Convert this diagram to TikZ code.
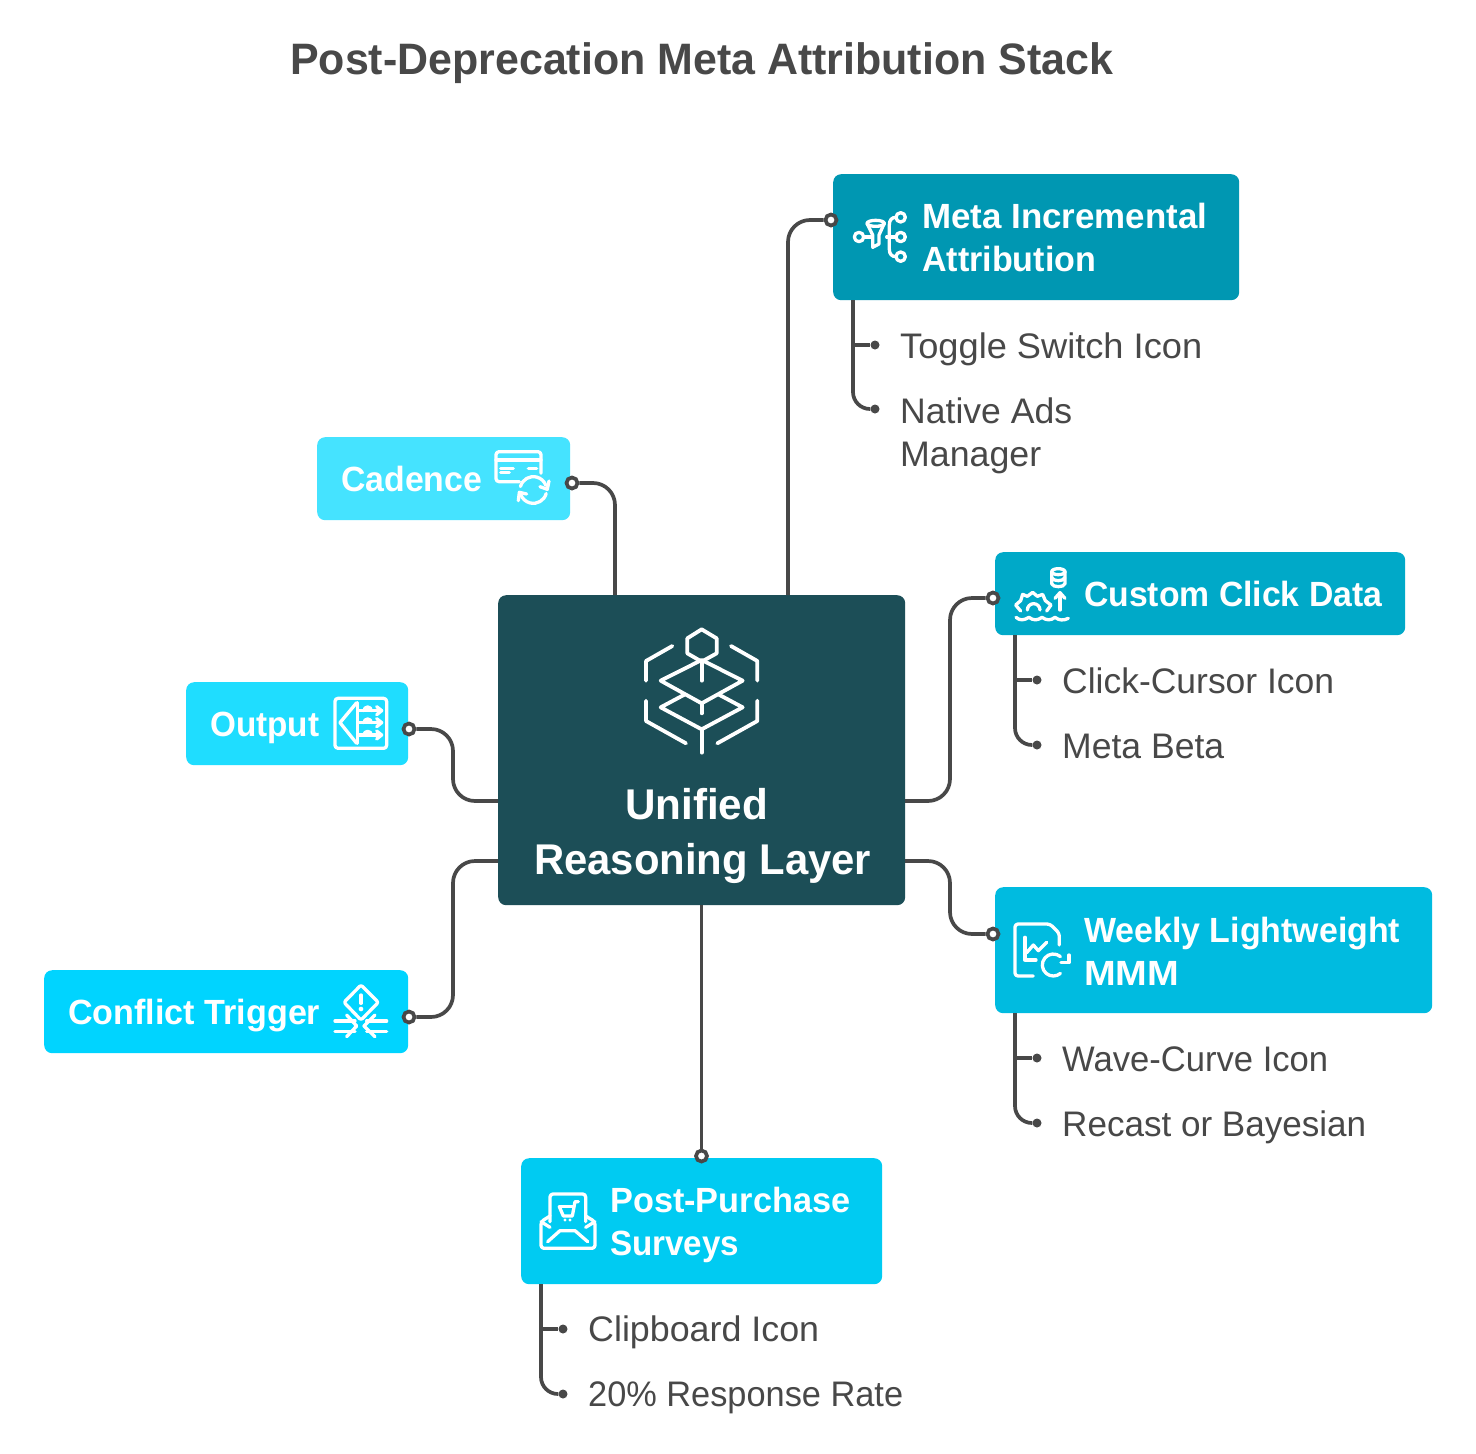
\documentclass[tikz,border=0pt]{standalone}
\usepackage{fontspec}
\usepackage{graphicx}
\setmainfont{Liberation Sans}
\definecolor{ink}{HTML}{484848}
\definecolor{coreC}{HTML}{1C4E57}
\definecolor{metaC}{HTML}{0097B2}
\definecolor{clickC}{HTML}{00A9C8}
\definecolor{mmmC}{HTML}{00BBE0}
\definecolor{postC}{HTML}{00CBF2}
\definecolor{confC}{HTML}{00D4FF}
\definecolor{outC}{HTML}{1FDDFF}
\definecolor{cadC}{HTML}{45E3FF}
\newsavebox\fitbox
\newcommand\fit[2]{\sbox\fitbox{#2}\pgfmathsetmacro\fitf{#1/\wd\fitbox}\scalebox{\fitf}[1]{\usebox\fitbox}}
\tikzset{
  box/.style={rounded corners=8pt,inner sep=0pt,anchor=north west},
  head/.style={anchor=base west,inner sep=0pt,text=white,font=\bfseries\fontsize{35}{43}\selectfont},
  big/.style={anchor=base west,inner sep=0pt,text=white,font=\bfseries\fontsize{43}{55}\selectfont},
  item/.style={anchor=base west,inner sep=0pt,text=ink,font=\fontsize{35.5}{43}\selectfont},
  wire/.style={draw=ink,line width=3.7pt,rounded corners=22pt},
  subwire/.style={draw=ink,line width=3.7pt,rounded corners=17pt},
  branch/.style={draw=ink,line width=3.7pt},
  port/.style={circle,draw=ink,fill=white,line width=3.7pt,inner sep=0pt,minimum size=11pt},
  dot/.style={circle,fill=ink,inner sep=0pt,minimum size=9pt},
  ico/.style={draw=white,line width=3.6pt,line cap=round,line join=round},
  thinico/.style={draw=white,line width=3.3pt,line cap=round,line join=round},
}
\begin{document}
\begin{tikzpicture}[x=1pt,y=-1pt]
\useasboundingbox (0,0) rectangle (1476,1454);
\fill[white] (0,0) rectangle (1476,1454);

% title
\node[anchor=base west,inner sep=0pt,text=ink,font=\bfseries\fontsize{44}{50}\selectfont] (title) at (290,74) {\fit{823}{Post-Deprecation Meta Attribution Stack}};

% boxes
\node[box,fill=coreC,minimum width=407pt,minimum height=310pt] (core) at (498,595) {};
\node[box,fill=metaC,minimum width=406pt,minimum height=126pt] (meta) at (833,174) {};
\node[box,fill=cadC,minimum width=253pt,minimum height=83pt] (cad) at (317,437) {};
\node[box,fill=clickC,minimum width=410pt,minimum height=83pt] (click) at (995,552) {};
\node[box,fill=outC,minimum width=222pt,minimum height=83pt] (out) at (186,682) {};
\node[box,fill=mmmC,minimum width=437pt,minimum height=126pt] (mmm) at (995,887) {};
\node[box,fill=confC,minimum width=364pt,minimum height=83pt] (conf) at (44,970) {};
\node[box,fill=postC,minimum width=361pt,minimum height=126pt] (post) at (521,1158) {};

% box labels
\node[big] (coreA) at (625,819.5) {\fit{143}{Unified}};
\node[big] (coreB) at (534,874.5) {\fit{337}{Reasoning Layer}};
\node[head] (metaA) at (922,228) {\fit{285}{Meta Incremental}};
\node[head] (metaB) at (922,271) {\fit{174}{Attribution}};
\node[head] (cadT) at (341,491) {\fit{141}{Cadence}};
\node[head] (clickT) at (1084,606) {\fit{298}{Custom Click Data}};
\node[head] (outT) at (210,736) {\fit{109}{Output}};
\node[head] (mmmA) at (1084,942) {\fit{316}{Weekly Lightweight}};
\node[head] (mmmB) at (1084,985) {\fit{95}{MMM}};
\node[head] (confT) at (68,1024) {\fit{252}{Conflict Trigger}};
\node[head] (postA) at (610,1212) {\fit{240}{Post-Purchase}};
\node[head] (postB) at (610,1255) {\fit{129}{Surveys}};

% items
\node[item] (i1) at (900,358) {\fit{302}{Toggle Switch Icon}};
\node[item] (i2a) at (900,423) {\fit{172}{Native Ads}};
\node[item] (i2b) at (900,466) {\fit{141}{Manager}};
\node[item] (i3) at (1062,693) {\fit{272}{Click-Cursor Icon}};
\node[item] (i4) at (1062,758) {\fit{162}{Meta Beta}};
\node[item] (i5) at (1062,1071) {\fit{266}{Wave-Curve Icon}};
\node[item] (i6) at (1062,1136) {\fit{304}{Recast or Bayesian}};
\node[item] (i7) at (588,1341) {\fit{231}{Clipboard Icon}};
\node[item] (i8) at (588,1406) {\fit{315}{20\% Response Rate}};

% ports and dots
\node[port] (pCad) at (572,483) {};
\node[port] (pMeta) at (831,220) {};
\node[port] (pOut) at (409,729) {};
\node[port] (pConf) at (409,1017) {};
\node[port] (pClick) at (993,598) {};
\node[port] (pMmm) at (993,934) {};
\node[port] (pPost) at (701.5,1156) {};
\node[dot] (d1) at (875,345) {};
\node[dot] (d2) at (875,409) {};
\node[dot] (d3) at (1037,680) {};
\node[dot] (d4) at (1037,745) {};
\node[dot] (d5) at (1037,1058) {};
\node[dot] (d6) at (1037,1123) {};
\node[dot] (d7) at (563,1329) {};
\node[dot] (d8) at (563,1394) {};

% attachment points on the core
\coordinate (cTopA) at (615,595);
\coordinate (cTopB) at (788,595);
\coordinate (cLeftA) at (498,801);
\coordinate (cLeftB) at (498,861);
\coordinate (cRightA) at (905,801);
\coordinate (cRightB) at (905,861);
\coordinate (cBot) at (701.5,905);

% connectors
\draw[wire] (pCad) -| (cTopA);
\draw[wire] (pMeta) -| (cTopB);
\draw[wire] (pOut) -- (453,729) -- (453,801) -- (cLeftA);
\draw[wire] (pConf) -- (453,1017) -- (453,861) -- (cLeftB);
\draw[wire] (pClick) -- (950,598) -- (950,801) -- (cRightA);
\draw[wire] (pMmm) -- (950,934) -- (950,861) -- (cRightB);
\draw[wire] (cBot) -- (pPost);

% sub-item trunks
\draw[subwire] (853,300) -- (853,409) -- (d2);
\draw[branch] (853,345) -- (d1);
\draw[subwire] (1015,635) -- (1015,745) -- (d4);
\draw[branch] (1015,680) -- (d3);
\draw[subwire] (1015,1013) -- (1015,1123) -- (d6);
\draw[branch] (1015,1058) -- (d5);
\draw[subwire] (541,1284) -- (541,1394) -- (d8);
\draw[branch] (541,1329) -- (d7);

% core icon
\begin{scope}[shift={(620,610)},x=0.3333pt,y=-0.3333pt,ico,line width=3.8pt]
\draw (245,58) -- (290,85) -- (290,130) -- (245,155) -- (202,130) -- (202,85) -- cycle;
\draw (157,108) -- (78,153) -- (78,212);
\draw (333,108) -- (412,153) -- (412,212);
\draw (78,272) -- (78,333) -- (198,400);
\draw (412,272) -- (412,333) -- (292,400);
\draw (245,150) -- (368,212) -- (245,280) -- (122,212) -- cycle;
\draw (245,155) -- (245,212);
\draw (195,253) -- (122,292) -- (245,358) -- (368,292) -- (295,253);
\draw (245,280) -- (245,310);
\draw (245,358) -- (245,428);
\end{scope}

% meta icon
\begin{scope}[shift={(830,170)},x=0.3333pt,y=-0.3333pt,thinico]
\draw (87,201) circle[radius=14];
\draw (137,160) ellipse[x radius=26,y radius=9];
\draw (111,160) -- (128,195) -- (128,232) -- (147,222) -- (147,195) -- (163,160);
\draw (101,201) -- (125,201);
\draw (170,201) -- (198,201);
\draw (198,142) .. controls (185,142) and (178,150) .. (178,165) -- (178,238) .. controls (178,252) and (185,260) .. (198,260);
\draw (212,142) circle[radius=14];
\draw (212,201) circle[radius=14];
\draw (212,260) circle[radius=14];
\end{scope}

% cadence icon
\begin{scope}[shift={(480,430)},x=0.3333pt,y=-0.3333pt,thinico]
\draw[rounded corners=3pt] (118,155) -- (48,155) -- (48,65) -- (183,65) -- (183,130);
\draw (48,90) -- (183,90);
\draw (62,115) -- (100,115);
\draw (62,128) -- (88,128);
\draw (145,115) -- (170,115);
\draw (121.4,169.6) arc[start angle=195,end angle=340,radius=40];
\draw (207,153) -- (202,178) -- (180,170);
\draw (198.6,190.4) arc[start angle=15,end angle=160,radius=40];
\draw (115,212) -- (118,187) -- (140,192);
\end{scope}

% output icon
\begin{scope}[shift={(320,680)},x=0.3333pt,y=-0.3333pt,thinico]
\draw[rounded corners=3pt] (45,55) rectangle (200,205);
\draw (110,68) -- (60,128) -- (110,190);
\draw (113,68) -- (113,190);
\draw (113,92) -- (183,92);
\draw (113,128) -- (183,128);
\draw (113,165) -- (183,165);
\draw (170,80) -- (185,92) -- (170,104);
\draw (170,116) -- (185,128) -- (170,140);
\draw (170,153) -- (185,165) -- (170,177);
\draw (132,92) arc[start angle=180,end angle=360,radius=11];
\draw (132,128) arc[start angle=180,end angle=360,radius=11];
\draw (132,165) arc[start angle=180,end angle=360,radius=11];
\end{scope}

% conflict icon
\begin{scope}[shift={(320,970)},x=0.3333pt,y=-0.3333pt,thinico]
\draw[rounded corners=2pt] (123,45) -- (175,97) -- (123,150) -- (72,97) -- cycle;
\draw (123,75) -- (123,100);
\fill[white] (123,117) circle[radius=7];
\draw (45,153) -- (105,153);
\draw (45,185) -- (105,185);
\draw (80,135) -- (110,168) -- (80,200);
\draw (200,153) -- (140,153);
\draw (200,185) -- (140,185);
\draw (165,135) -- (132,168) -- (165,200);
\end{scope}

% custom click icon
\begin{scope}[shift={(1000,555)},x=0.3333pt,y=-0.3333pt,thinico]
\draw (175,50) ellipse[x radius=20,y radius=9];
\draw (155,50) -- (155,86) .. controls (158,98) and (192,98) .. (195,86) -- (195,50);
\draw (155,68) .. controls (160,80) and (190,80) .. (195,68);
\draw (180,165) -- (180,115);
\draw (165,130) -- (180,113) -- (195,130);
\draw (62,168) -- (47,150) -- (62,137) -- (68,118) -- (82,124) -- (98,112) -- (112,124) -- (128,118) -- (136,137) -- (153,150) -- (140,168);
\draw (82,165) arc[start angle=180,end angle=360,radius=19];
\draw (48,187) .. controls (60,197) and (70,197) .. (87,187) .. controls (100,197) and (112,197) .. (126,187) .. controls (140,197) and (152,197) .. (165,187) .. controls (178,197) and (190,197) .. (205,190);
\end{scope}

% weekly icon
\begin{scope}[shift={(1000,910)},x=0.3333pt,y=-0.3333pt,thinico]
\draw[rounded corners=3pt] (100,198) -- (45,198) -- (45,42) -- (150,42) -- (178,70) -- (178,105);
\draw (75,82) -- (75,150) -- (108,150);
\draw (80,128) -- (100,105) -- (115,122) -- (140,97);
\draw (181.2,139.7) arc[start angle=-50,end angle=-310,radius=33];
\draw (207,135) -- (207,158) -- (183,158);
\end{scope}

% post icon
\begin{scope}[shift={(525,1180)},x=0.3333pt,y=-0.3333pt,thinico]
\draw[rounded corners=3pt] (75,125) -- (75,42) -- (182,42) -- (182,125);
\draw[rounded corners=3pt] (75,108) -- (48,125) -- (48,205) -- (210,205) -- (210,125) -- (182,108);
\draw (68,185) -- (105,152) -- (150,152) -- (188,185);
\draw (48,125) -- (75,142);
\draw (210,125) -- (182,142);
\draw (103,80) -- (143,80);
\draw (103,80) -- (115,108) -- (142,108) -- (150,65) -- (160,65);
\fill[white] (120,120) circle[radius=5];
\fill[white] (135,120) circle[radius=5];
\end{scope}
\end{tikzpicture}
\end{document}
